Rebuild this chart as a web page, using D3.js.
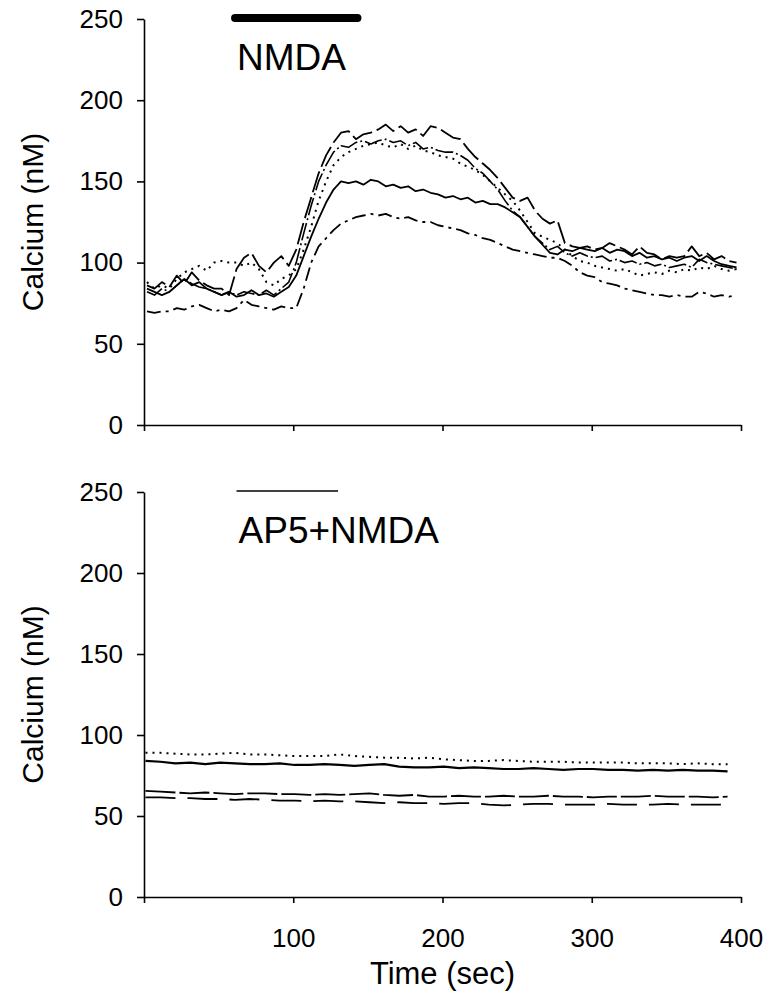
<!DOCTYPE html>
<html>
<head>
<meta charset="utf-8">
<script src="https://cdn.jsdelivr.net/npm/d3@7"></script>
<style>
  body { margin: 0; background: #fff; }
  text { font-family: "Liberation Sans", Arial, Helvetica, sans-serif; fill: #000; }
</style>
</head>
<body>
<div id="chart"></div>
<script>
// time points (sec) for the NMDA traces
const timesTop = [2,7,12,17,22,27,32,37,42,47,52,57,62,67,72,77,82,87,92,97,
  102,107,112,117,122,127,132,137,142,147,152,157,162,167,172,177,182,187,192,197,
  202,207,212,217,222,227,232,237,242,247,252,257,262,267,272,277,282,287,292,297,
  302,307,312,317,322,327,332,337,342,347,352,357,362,367,372,377,382,387,392,397];

// calcium (nM), one array per cell
const nmdaLongDash = [86,84,88,85,92,87,94,89,86,84,84,80,96,103,106,98,94,100,104,98,
  108,125,140,155,166,174,180,181,176,179,180,182,185,181,184,180,182,178,184,183,
  180,177,176,170,165,161,157,152,146,140,138,140,132,127,124,126,112,110,109,110,
  108,109,112,110,108,105,110,106,105,102,104,103,104,110,104,106,102,104,101,100];
const nmdaDashDot = [82,80,84,82,86,90,87,85,84,82,80,82,80,82,81,80,83,80,84,88,
  100,118,135,150,160,168,172,171,174,175,173,175,176,174,175,172,174,170,171,169,
  168,168,166,163,158,155,150,145,138,132,128,122,116,112,108,110,106,104,106,104,
  103,104,101,102,100,101,99,100,98,99,97,98,99,97,102,100,99,98,97,96];
const nmdaDotted = [88,84,86,84,90,94,96,98,95,100,101,100,100,98,100,96,88,86,90,92,
  96,108,122,138,150,160,165,168,170,172,173,174,172,171,173,170,172,169,168,166,
  165,164,161,159,157,154,150,146,142,138,132,125,118,116,114,112,108,104,101,100,
  98,97,96,95,96,94,92,93,94,93,95,94,96,95,97,96,98,96,95,96];
const nmdaSolid = [84,82,80,82,86,90,86,88,84,82,80,82,79,80,83,80,81,79,82,85,
  92,104,116,127,137,145,150,149,150,148,151,150,147,148,146,147,144,145,143,142,
  140,141,139,140,137,138,136,136,134,131,128,122,116,111,106,105,108,107,109,108,
  107,109,106,108,107,104,106,103,104,102,103,101,103,104,101,104,101,99,98,97];
const nmdaLowDash = [70,69,70,70,72,71,73,74,72,70,71,70,72,77,74,73,72,71,73,72,
  72,84,100,110,115,120,124,126,128,129,130,129,130,128,127,128,126,125,125,123,
  122,121,120,118,117,115,114,112,110,108,107,106,105,104,103,103,101,98,94,92,
  91,88,87,86,84,83,82,81,80,80,79,80,79,79,82,81,79,80,79,80];

// time points (sec) for the AP5+NMDA traces
const timesBottom = [1,11,21,31,41,51,61,71,81,91,101,111,121,131,141,151,161,171,181,191,
  201,211,221,231,241,251,261,271,281,291,301,311,321,331,341,351,361,371,381,391];
const ap5Dotted = [89,89,88.5,88,88,88.5,89,88,88,87.5,87,87,87,88,87,86.5,86,86,85.5,86,
  85,84.5,84,84,84.5,84,83.5,83.5,83.5,83,83,83,83,82.5,82.5,82.5,82,82.5,82,82];
const ap5Solid = [84,83.5,82.5,83,82,83,82.5,82,82,82.5,81.5,81.5,82,81.5,81,81.5,82,80.5,80,80,
  80.5,79.5,80,79.5,79,79,79.5,79,78.5,79,79,78.5,78.5,78,78.5,78,78.5,78,78,77.5];
const ap5UpperDash = [65.5,65,64.5,64,64.5,64,63.5,64,64,63.5,63.5,63,63.5,63,63.5,64,63,62.5,63,62,
  62,62.5,62,62,62.5,62,62,62.5,62,62,61.5,62,62,62,62.5,62,62,62,61.5,62];
const ap5LowerDash = [61.5,61.5,61,61,60.5,60.5,60,60.5,60,59.5,59.5,59,59.5,59,59,58.5,58,58.5,58,58,
  57.5,58,58,57,56.5,57,57.5,57.5,57,57,57,57.5,57,57,57,57.5,57,57,57,57];

// drug application bars (sec)
const nmdaBar = [61, 143];
const ap5Bar = [62, 130];

const yTicks = [0, 50, 100, 150, 200, 250];
const xTicks = [0, 100, 200, 300, 400];

const width = 768, height = 1002;
const svg = d3.select('#chart').append('svg')
  .attr('width', width)
  .attr('height', height);

const x = d3.scaleLinear().domain([0, 400]).range([144, 741]);

function drawPanel(top, bottom, series, bar, barWidth, label, labelY, showXLabels) {
  const y = d3.scaleLinear().domain([0, 250]).range([bottom, top]);

  const yAxis = svg.append('g')
    .attr('transform', `translate(${x(0)},0)`)
    .call(d3.axisLeft(y).tickValues(yTicks).tickSize(7).tickSizeOuter(0).tickPadding(14));
  yAxis.selectAll('text').style('font-size', '26px');

  const xAxis = svg.append('g')
    .attr('transform', `translate(0,${bottom})`)
    .call(d3.axisBottom(x).tickValues(xTicks).tickSize(6).tickSizeOuter(0).tickPadding(26)
      .tickFormat(d => (showXLabels && d > 0) ? d : ''));
  xAxis.selectAll('text').style('font-size', '26px');

  svg.selectAll('.domain, .tick line')
    .attr('stroke', '#000')
    .attr('stroke-width', 1.6);

  svg.append('text')
    .attr('transform', `translate(43,${(top + bottom) / 2}) rotate(-90)`)
    .attr('text-anchor', 'middle')
    .style('font-size', '30px')
    .text('Calcium (nM)');

  const line = d3.line()
    .x(d => x(d[0]))
    .y(d => y(d[1]));

  series.forEach(s => {
    svg.append('path')
      .datum(s.times.map((t, i) => [t, s.values[i]]))
      .attr('fill', 'none')
      .attr('stroke', '#000')
      .attr('stroke-width', s.width)
      .attr('stroke-dasharray', s.dash)
      .attr('stroke-linejoin', 'round')
      .attr('d', line);
  });

  svg.append('line')
    .attr('x1', x(bar[0]))
    .attr('x2', x(bar[1]))
    .attr('y1', top - 1)
    .attr('y2', top - 1)
    .attr('stroke', '#000')
    .attr('stroke-width', barWidth)
    .attr('stroke-linecap', barWidth > 3 ? 'round' : 'butt');

  svg.append('text')
    .attr('x', x(bar[0]) + 2)
    .attr('y', labelY)
    .style('font-size', '37px')
    .text(label);
}

drawPanel(19, 425, [
  { times: timesTop, values: nmdaLowDash, dash: '14,5,3,5', width: 1.8 },
  { times: timesTop, values: nmdaDotted, dash: '2,5', width: 2 },
  { times: timesTop, values: nmdaSolid, dash: null, width: 1.8 },
  { times: timesTop, values: nmdaDashDot, dash: '18,3,2,3', width: 1.6 },
  { times: timesTop, values: nmdaLongDash, dash: '22,5', width: 1.8 }
], nmdaBar, 8, 'NMDA', 70, false);

drawPanel(492, 897, [
  { times: timesBottom, values: ap5Dotted, dash: '2,5', width: 2 },
  { times: timesBottom, values: ap5Solid, dash: null, width: 2.2 },
  { times: timesBottom, values: ap5UpperDash, dash: '30,4', width: 1.8 },
  { times: timesBottom, values: ap5LowerDash, dash: '30,12', width: 1.8 }
], ap5Bar, 1.5, 'AP5+NMDA', 543, true);

svg.append('text')
  .attr('x', x(200))
  .attr('y', 984)
  .attr('text-anchor', 'middle')
  .style('font-size', '31px')
  .text('Time (sec)');
</script>
</body>
</html>
